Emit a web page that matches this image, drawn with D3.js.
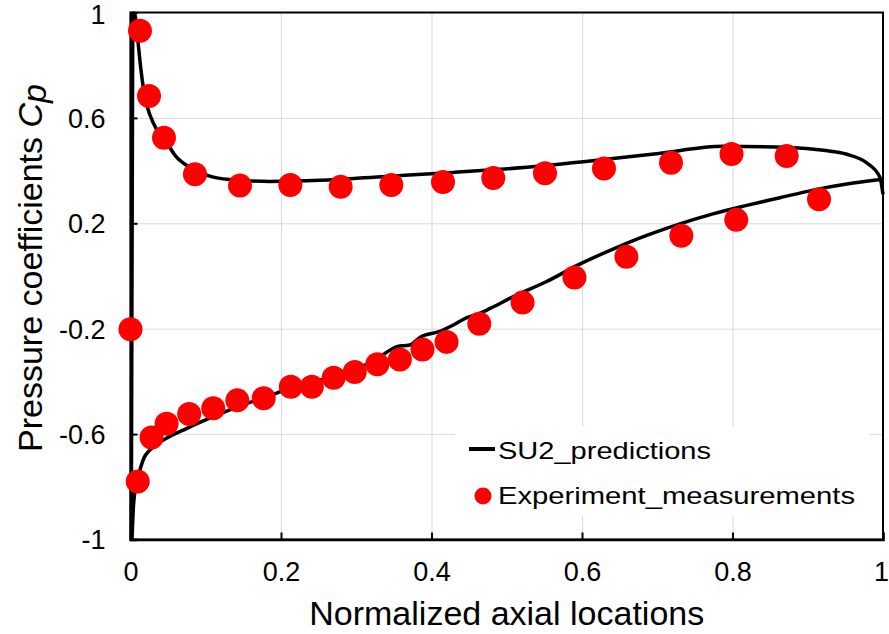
<!DOCTYPE html>
<html>
<head>
<meta charset="utf-8">
<script src="https://cdn.jsdelivr.net/npm/d3@7"></script>
<style>
  body { margin: 0; background: #fff; }
  text { font-family: Arial, "Liberation Sans", sans-serif; fill: #000; }
  .grid line { stroke: #d9d9d9; stroke-width: 1; }
  .grid path { display: none; }
</style>
</head>
<body>
<div id="chart"></div>
<script>
"use strict";

// tick values
const xTicks = [0, 0.2, 0.4, 0.6, 0.8, 1]
const yTicks = [-1, -0.6, -0.2, 0.2, 0.6, 1]

// SU2 line, upper branch (leading edge -> trailing edge)
const upperX = [0.003, 0.006, 0.009, 0.014, 0.019, 0.026, 0.035, 0.046, 0.060, 0.079, 0.101, 0.132, 0.185, 0.252, 0.340, 0.429, 0.491, 0.602, 0.699, 0.788, 0.876, 0.921, 0.952, 0.978, 0.996, 1.0]
const upperY = [1.0, 0.99, 0.915, 0.78, 0.68, 0.61, 0.555, 0.515, 0.455, 0.412, 0.383, 0.366, 0.359, 0.363, 0.378, 0.393, 0.405, 0.434, 0.464, 0.492, 0.488, 0.477, 0.462, 0.430, 0.374, 0.31]

// SU2 line, lower branch
const lowerX = [0.002, 0.004, 0.007, 0.0126, 0.018, 0.026, 0.044, 0.075, 0.110, 0.1455, 0.181, 0.216, 0.252, 0.296, 0.323, 0.340, 0.354, 0.371, 0.385, 0.411, 0.429, 0.447, 0.464, 0.478, 0.509, 0.553, 0.597, 0.642, 0.686, 0.730, 0.774, 0.819, 0.863, 0.907, 0.952, 0.997]
const lowerY = [-1.0, -0.87, -0.80, -0.736, -0.69, -0.66, -0.622, -0.578, -0.534, -0.493, -0.458, -0.422, -0.395, -0.357, -0.322, -0.29, -0.268, -0.262, -0.232, -0.21, -0.186, -0.158, -0.142, -0.123, -0.078, -0.021, 0.045, 0.103, 0.154, 0.198, 0.236, 0.268, 0.297, 0.326, 0.349, 0.366]

// leading edge vertical piece
const leX = [0.001, 0.003]
const leY = [-1.0, 1.0]

// experiment points
const expX = [0.0126, 0.0246, 0.0445, 0.0857, 0.1455, 0.2124, 0.2793, 0.3466, 0.4153, 0.4821, 0.5508, 0.6292, 0.7183, 0.7987, 0.872,
              0.0, 0.0096, 0.028, 0.048, 0.078, 0.110, 0.142, 0.177, 0.213, 0.241, 0.270, 0.298, 0.328, 0.358, 0.388, 0.420, 0.4635, 0.521, 0.590, 0.659, 0.732, 0.805, 0.915]
const expY = [0.931, 0.683, 0.525, 0.386, 0.343, 0.345, 0.339, 0.345, 0.357, 0.372, 0.390, 0.408, 0.430, 0.463, 0.455,
              -0.202, -0.780, -0.613, -0.561, -0.524, -0.502, -0.472, -0.464, -0.420, -0.420, -0.386, -0.364, -0.335, -0.317, -0.279, -0.250, -0.181, -0.101, -0.006, 0.073, 0.153, 0.213, 0.291]

const legendLabels = ["SU2_predictions", "Experiment_measurements"]

const W = 889, H = 634
const margins = {top: 12.5, right: 6, bottom: 94.5, left: 130.5}
const width = W - margins.left - margins.right
const height = H - margins.top - margins.bottom

let svg = d3.select("#chart")
  .append("svg")
  .attr("width", W)
  .attr("height", H)

let g = svg.append("g")
  .attr("transform", `translate(${margins.left},${margins.top})`)

let xScale = d3.scaleLinear().domain([0, 1]).range([0, width])
let yScale = d3.scaleLinear().domain([-1, 1]).range([height, 0])

// plain hyphen for negatives, like the original
let fmt = d => String(d)

// gridlines (inner ones only)
g.append("g")
  .attr("class", "grid")
  .attr("transform", `translate(0,${height})`)
  .call(d3.axisBottom(xScale).tickValues(xTicks.slice(1, -1)).tickSize(-height).tickFormat(""))

g.append("g")
  .attr("class", "grid")
  .call(d3.axisLeft(yScale).tickValues(yTicks.slice(1, -1)).tickSize(-width).tickFormat(""))

// legend background hides the grid
g.append("rect")
  .attr("x", 325).attr("y", 414)
  .attr("width", 414).attr("height", 90)
  .attr("fill", "#fff")

// frame
g.append("rect")
  .attr("width", width).attr("height", height)
  .attr("fill", "none")
  .attr("stroke", "#000")
  .attr("stroke-width", 2)

// axes with inward ticks
let xAxis = g.append("g")
  .attr("transform", `translate(0,${height})`)
  .call(d3.axisBottom(xScale).tickValues(xTicks).tickSize(-7).tickPadding(36).tickFormat(fmt))
let yAxis = g.append("g")
  .call(d3.axisLeft(yScale).tickValues(yTicks).tickSize(-7).tickPadding(33).tickFormat(fmt))

;[xAxis, yAxis].forEach(a => {
  a.select(".domain").attr("stroke", "#000").attr("stroke-width", 2.5)
  a.selectAll(".tick line").attr("stroke", "#000").attr("stroke-width", 2)
  a.selectAll(".tick text").style("font-size", "27px").attr("fill", "#000")
})
xAxis.selectAll(".tick text").attr("dy", "0.2em")
  .attr("dx", d => d == 1 ? -2 : 0)
yAxis.selectAll(".tick text").attr("x", -25)
  .attr("dy", d => d == 1 ? "0.42em" : "0.35em")

// axis titles
svg.append("text")
  .attr("x", margins.left + width / 2)
  .attr("y", 625)
  .attr("text-anchor", "middle")
  .style("font-size", "34px")
  .text("Normalized axial locations")

let yTitle = svg.append("text")
  .attr("transform", "translate(42,268) rotate(-90)")
  .attr("text-anchor", "middle")
  .style("font-size", "34px")
yTitle.append("tspan").text("Pressure coefficients ")
yTitle.append("tspan").style("font-style", "italic").text("C")
yTitle.append("tspan").style("font-style", "italic").attr("dy", 4).text("p")

// SU2 lines
let line = d3.line().curve(d3.curveMonotoneX).x(d => xScale(d[0])).y(d => yScale(d[1]))
let straight = d3.line().x(d => xScale(d[0])).y(d => yScale(d[1]))

g.append("path")
  .attr("d", straight(d3.zip(leX, leY)))
  .attr("fill", "none").attr("stroke", "#000").attr("stroke-width", 3.5)

;[[upperX, upperY], [lowerX, lowerY]].forEach(s => {
  g.append("path")
    .attr("d", line(d3.zip(s[0], s[1])))
    .attr("fill", "none")
    .attr("stroke", "#000")
    .attr("stroke-width", 3.5)
    .attr("stroke-linejoin", "round")
})

// experiment points
g.selectAll(".point")
  .data(d3.zip(expX, expY))
  .enter()
  .append("circle")
  .attr("class", "point")
  .attr("cx", d => xScale(d[0]))
  .attr("cy", d => yScale(d[1]))
  .attr("r", 12)
  .attr("fill", "#ff0000")

// legend
let legend = svg.append("g")
legend.append("line")
  .attr("x1", 469).attr("x2", 495)
  .attr("y1", 449).attr("y2", 449)
  .attr("stroke", "#000").attr("stroke-width", 4)
legend.append("circle")
  .attr("cx", 483).attr("cy", 496).attr("r", 8.5)
  .attr("fill", "#ff0000")
legend.selectAll(".legText")
  .data(legendLabels)
  .enter()
  .append("text")
  .attr("class", "legText")
  .attr("x", 498)
  .attr("y", (d, i) => 459 + i * 45)
  .style("font-size", "24px")
  .attr("textLength", (d, i) => i == 0 ? 213 : 357)
  .attr("lengthAdjust", "spacingAndGlyphs")
  .text(d => d)
</script>
</body>
</html>
